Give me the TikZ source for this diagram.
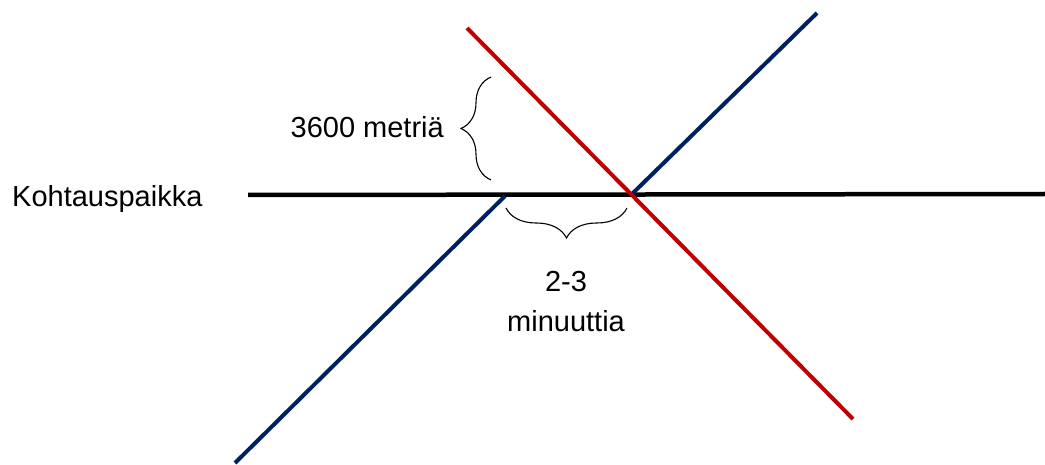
\documentclass[tikz,border=0pt]{standalone}
\usepackage{fontspec}
\setmainfont{Liberation Sans}
\usetikzlibrary{decorations.pathreplacing}
\definecolor{navy}{HTML}{002060}
\definecolor{dred}{HTML}{C00000}
\tikzset{
  lbl/.style={font=\fontsize{29}{40}\selectfont, inner sep=0pt, align=center},
  mline/.style={line width=4.5pt},
  bluel/.style={line width=4pt, draw=navy},
  redl/.style={line width=4pt, draw=dred},
  brc/.style={draw=black, line width=1.1pt, decorate, decoration={brace, amplitude=30pt}}
}
\begin{document}
\begin{tikzpicture}[x=1pt,y=-1pt]
\useasboundingbox (0,0) rectangle (1045,465);
% coordinates
\coordinate (hL) at (248,195);
\coordinate (hR) at (1045,194);
\coordinate (b1a) at (235,463);
\coordinate (b1b) at (505,196);
\coordinate (b2a) at (632,194);
\coordinate (b2b) at (817,13);
\coordinate (rA) at (467,28);
\coordinate (rB) at (853,419);
\coordinate (vb1) at (491,180);
\coordinate (vb2) at (491,77);
\coordinate (hb1) at (627,208);
\coordinate (hb2) at (506,208);
% lines
\draw[mline] (hL) -- (hR);
\draw[bluel] (b1a) -- (b1b);
\draw[bluel] (b2a) -- (b2b);
\draw[redl] (rA) -- (rB);
% braces
\draw[brc] (vb1) -- (vb2);
\draw[brc] (hb1) -- (hb2);
% labels
\node[lbl, anchor=base west] (kp) at (12,207) {Kohtauspaikka};
\node[lbl, anchor=base east] (m3600) at (444,138) {3600 metriä};
\node[lbl, anchor=base] (min) at (566,331) {2-3\\minuuttia};
\end{tikzpicture}
\end{document}
